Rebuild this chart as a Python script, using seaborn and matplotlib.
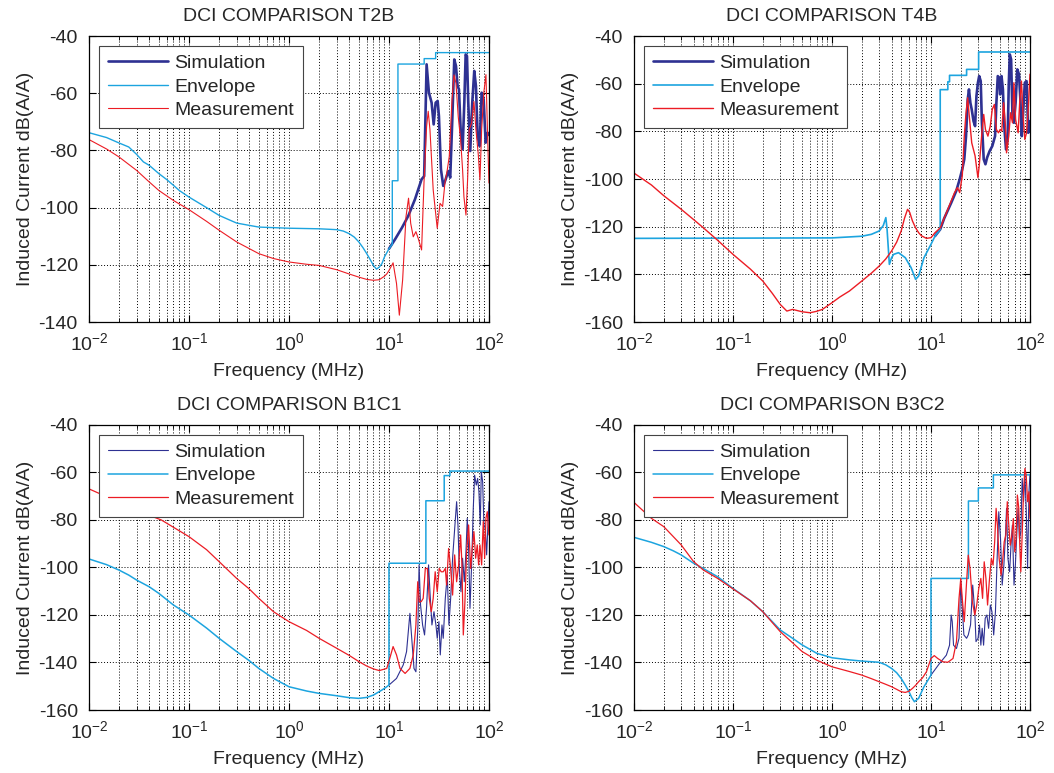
import matplotlib
matplotlib.use("Agg")
import matplotlib.pyplot as plt
import seaborn as sns

# ---- T2B ----
t2b_env_f = [0.01, 0.015, 0.02, 0.025, 0.03, 0.035, 0.04, 0.05, 0.06, 0.07, 0.08, 0.1, 0.15, 0.2, 0.25, 0.3,
             0.4, 0.5, 0.7, 1, 2, 3, 3.5, 4, 4.5, 5, 5.5, 6, 6.5, 7, 7.5, 8, 8.5, 9, 10,
             10.8, 10.8, 12.3, 12.3, 22.5, 22.5, 29.3, 29.3, 100]
t2b_env_db = [-73.8, -75.5, -77.4, -78.8, -81.4, -84, -85.2, -88.1, -90.2, -92.2, -94, -96.3, -100, -102.7,
              -104.2, -105.4, -106.2, -106.8, -107, -107.2, -107.4, -107.7, -108.2, -109.1, -110.3, -112, -114,
              -116.1, -118.2, -120.2, -121.5, -120.8, -119.6, -117.3, -114.4, -112.8, -90.6, -90.6, -49.8, -49.8,
              -47.9, -47.9, -45.8, -45.8]
t2b_sim_f = [10, 11.5, 13.5, 15.6, 18.2, 21.2, 22.5, 23.8, 25.1, 26.7, 28, 29.3, 30.7, 31.6, 33.1, 34.9, 36.9,
             39.2, 41, 43, 45, 46.8, 48.6, 50.1, 52.1, 54.5, 56.7, 58.5, 60.3, 62.1, 65, 68.1, 71.3, 74.1, 77.1,
             80.7, 84.5, 88.5, 92.7, 97, 100]
t2b_sim_db = [-114.4, -111.1, -107, -102.9, -97.1, -90.1, -89, -49.9, -59.8, -63.3, -70.9, -63.3, -62.7, -68,
              -86.6, -92.4, -90.1, -87.2, -89.5, -69.1, -48.2, -50.5, -57.5, -58.6, -72.6, -79.6, -63.3, -46.4,
              -47, -63.3, -80.2, -63.3, -52.2, -57.5, -75, -78.5, -59.8, -62.1, -77.3, -73.8, -74.5]
t2b_meas_f = [0.01, 0.015, 0.02, 0.03, 0.04, 0.05, 0.07, 0.1, 0.15, 0.2, 0.3, 0.5, 0.7, 1, 1.5, 2, 3, 4, 5, 6,
              7, 8, 9, 9.5, 10, 11, 11.9, 12.7, 13.7, 14.8, 15.7, 16.5, 17.5, 18.6, 19.6, 21.2, 22.4, 23.8, 24.7,
              25.7, 27.7, 30.4, 32.4, 34.4, 36.3, 38.3, 40.1, 42.7, 44.7, 46.8, 49.3, 52.1, 54.5, 56.2, 58.9,
              61.2, 63.5, 67.1, 70.8, 74.1, 78.2, 81.3, 84.5, 89.1, 93.3, 97.7, 100]
t2b_meas_db = [-76.2, -79.5, -82.3, -87, -91, -94, -97.5, -100.7, -104.8, -107.9, -112, -116.1, -117.8, -119,
               -119.8, -120.2, -121.7, -123.2, -124.3, -125.1, -125.4, -125.2, -124, -123.2, -122, -119.3,
               -126.5, -137.6, -125.3, -103.2, -96.7, -105.5, -110.2, -108.4, -110.7, -114.8, -91.4, -71.6, -66.3,
               -72.7, -93.8, -107.2, -98.5, -99.6, -91.4, -86.8, -82.1, -62.3, -53.6, -56.5, -68.2, -76.3, -86.8,
               -96.2, -102.6, -90, -72.7, -70.4, -62.9, -72.7, -81.4, -90.3, -72.7, -59.4, -53.5, -79, -91.4]

# ---- T4B ----
t4b_env_f = [0.01, 0.1, 1, 2, 2.5, 3, 3.3, 3.5, 3.6, 3.8, 4, 4.2, 4.7, 5.5, 6.3, 7, 7.5, 8.5, 10, 11, 12.4,
             12.4, 14.8, 14.8, 15.4, 15.4, 22.9, 22.9, 30.3, 30.3, 100]
t4b_env_db = [-124.9, -124.8, -124.7, -124, -123.2, -121.8, -119.5, -116.2, -121, -135.8, -133, -131.6, -130.9,
              -133, -137.2, -142.1, -140.7, -133, -127.4, -123.9, -121.1, -62.5, -62.5, -59.2, -59.2, -56.5,
              -56.5, -54, -54, -46.7, -46.7]
t4b_sim_f = [11, 12.4, 13.6, 16, 18, 19.5, 20.7, 21.7, 22.6, 23.5, 24.2, 25, 25.8, 26.9, 27.9, 28.8, 29.8, 30.7,
             31.8, 32.7, 34.1, 35.5, 36.9, 39.1, 41.6, 44.4, 45.8, 47.3, 48.9, 50, 51.6, 53.3, 55, 57.3, 59.6, 61,
             62.5, 64.5, 66.6, 68.8, 71.6, 74.5, 77.5, 80, 82.6, 85.3, 88.7, 92.3, 96.1, 100]
t4b_sim_db = [-123.9, -121.1, -116.5, -110, -105, -100.1, -95.9, -91.7, -82, -66.6, -62.4, -68, -70.8, -75.7,
              -77.8, -65.2, -59.6, -56.8, -58.9, -76.4, -91.7, -93.8, -91, -88.3, -86.2, -82, -68, -56.8, -57.5,
              -64.5, -56.8, -62.4, -77.8, -87.6, -82, -61, -47.7, -49.8, -73.6, -76.4, -68, -54, -56.1, -66.6,
              -82, -72.2, -59.6, -58.9, -80.6, -75.7]
t4b_meas_f = [0.01, 0.015, 0.02, 0.03, 0.04, 0.05, 0.07, 0.1, 0.15, 0.2, 0.25, 0.3, 0.35, 0.4, 0.5, 0.6, 0.7,
              0.8, 1, 1.2, 1.5, 2, 2.5, 3, 3.5, 4, 4.5, 5, 5.4, 5.8, 6.1, 6.5, 7, 7.5, 8, 9, 10, 11, 12.4, 14.8,
              17.3, 18.5, 19.5, 20.7, 21.7, 22.6, 23.5, 24.2, 25.8, 27.9, 29.8, 30.7, 32.7, 34.1, 35.5, 37.6,
              39.7, 41.6, 43.7, 45.8, 48, 50, 51.9, 54.2, 56.5, 58, 61, 63.7, 66.6, 68.8, 71.6, 76, 78.7, 82,
              85.3, 88.7, 92.3, 96, 100]
t4b_meas_db = [-97.5, -102.5, -107, -112.7, -117, -120.4, -125.7, -131.6, -137.8, -142.8, -148, -152.6, -155.4,
               -154.7, -155.7, -156.1, -155.5, -154.7, -151.9, -149.5, -147, -142.8, -139.5, -136.5, -133.5,
               -130.2, -126.5, -121.8, -116.5, -112.7, -114, -117.6, -120.5, -122.5, -123.8, -124.9, -124.6,
               -122.5, -120.5, -112.7, -105.7, -103.6, -105.7, -98.7, -82, -72.2, -65.9, -72.2, -84.8, -90.3,
               -99.4, -94.5, -80.6, -72.9, -79.2, -82, -77.8, -70.8, -68.7, -79.2, -80.6, -79.2, -79.9, -68,
               -77.8, -89, -82, -72.2, -76.4, -59.6, -75, -80.6, -68, -58.9, -73.6, -83.4, -80.6, -70.8, -56]

# ---- B1C1 ----
b1c1_env_f = [0.01, 0.015, 0.02, 0.025, 0.03, 0.04, 0.05, 0.07, 0.1, 0.15, 0.2, 0.3, 0.4, 0.5, 0.7, 1, 1.5, 2,
              3, 4, 5, 6, 7, 8.5, 9.3, 10, 10, 23.4, 23.4, 35.7, 35.7, 40.7, 40.7, 100]
b1c1_env_db = [-96.4, -98.8, -101.1, -103.2, -105.3, -108.1, -110.9, -115.8, -120, -125.5, -129.8, -135.4,
               -139.2, -142.5, -146.7, -150.2, -152, -153, -154, -154.8, -155.1, -154.7, -153.7, -151.6, -150.5,
               -149.5, -98.2, -98.2, -71.9, -71.9, -61.3, -61.3, -59.4, -59.4]
b1c1_sim_f = [10, 11.9, 13.9, 15, 16.2, 16.9, 17.8, 18.6, 19.5, 20, 20.7, 21.7, 22.7, 23.8, 24.9, 25.7, 26.9,
              28.2, 29.5, 30.4, 31.6, 32.6, 33.9, 34.9, 36.6, 38.3, 39.8, 41.4, 43.3, 45.7, 47.5, 49, 50.5, 52.5,
              54.5, 56.7, 58.9, 60.7, 62.6, 64.6, 67.1, 69.7, 71.9, 74.7, 77.1, 79.4, 81.9, 83.8, 86.5, 89.1,
              91.9, 94.8, 97.7, 100]
b1c1_sim_db = [-149.5, -146.7, -141, -135.4, -119.3, -129.8, -142.5, -143.9, -124.2, -98.9, -115.8, -124.2,
               -128.4, -116.5, -98.9, -110.2, -124.2, -118.6, -124.2, -129.8, -122.8, -136.8, -124.2, -129.8,
               -113, -103.2, -124.2, -113, -96.1, -82.1, -72.3, -82.1, -100.4, -110.2, -96.1, -106, -93.3, -79.3,
               -91.9, -117.2, -98.9, -75.1, -61.1, -65.3, -62.5, -68.1, -82.1, -59.6, -63.9, -82.1, -83.5, -94.7,
               -82.1, -72.3]
b1c1_meas_f = [0.01, 0.02, 0.03, 0.053, 0.1, 0.15, 0.2, 0.3, 0.4, 0.5, 0.7, 1, 1.5, 2, 3, 4, 5, 6, 7, 8, 9.5,
               10.2, 11, 11.9, 12.9, 14.5, 16.2, 17.5, 18.6, 19.4, 20.1, 21, 22, 23.1, 24.2, 25.3, 26.5, 27.7, 29,
               30.4, 31.8, 33.3, 34.9, 36.6, 37.7, 39.5, 41.4, 43.3, 45.4, 47.5, 49.8, 52.1, 53.7, 55.4, 57.5,
               59.8, 62.6, 65.6, 68.1, 70.8, 73.6, 76.4, 78.8, 81.3, 84.5, 87.7, 90.6, 93.3, 96.2, 100]
b1c1_meas_db = [-66.9, -72.5, -76, -80, -87, -92.5, -97.5, -104.6, -109, -113, -118.6, -122.8, -126.5, -129.8,
                -134, -137, -139.6, -141.5, -142.7, -143.4, -142.5, -138.2, -133.3, -136.8, -142.5, -144.6,
                -142.5, -136.8, -124.2, -106, -114.4, -114.4, -113, -100.4, -100.4, -113, -118.6, -113, -101.8,
                -110.2, -100.4, -101.8, -101.8, -100.4, -107.4, -92, -100.4, -111.6, -94.7, -106, -98.9, -86.3,
                -98.9, -128.4, -114.4, -93.3, -82.1, -100.4, -92, -84.9, -96.1, -90.5, -98.9, -90.5, -98.9,
                -80.7, -96.1, -79.3, -76.5, -86.3]

# ---- B3C2 ----
b3c2_env_f = [0.01, 0.015, 0.02, 0.025, 0.03, 0.04, 0.05, 0.07, 0.1, 0.15, 0.2, 0.3, 0.4, 0.5, 0.7, 1, 1.5, 2,
              3, 3.5, 4, 4.5, 5, 5.5, 6, 6.4, 6.8, 7.5, 8.5, 9.3, 10, 10, 23.9, 23.9, 30.1, 30.1, 42.7, 42.7, 100]
b3c2_env_db = [-87.3, -89.4, -91.2, -93, -94.7, -98.2, -100.4, -103.9, -108.8, -114, -118.6, -126.3, -129.8,
               -132.6, -136.1, -138, -138.9, -139.4, -139.9, -141, -142.5, -144.3, -146.7, -149.5, -152.3, -154.8,
               -156.5, -155.1, -150.2, -147.5, -145.3, -104.6, -104.6, -72, -72, -66.5, -66.5, -61, -61]
b3c2_sim_f = [10, 12.2, 14.3, 15.4, 16, 16.4, 16.9, 18.1, 19.2, 20, 20.8, 21.5, 22.9, 23.8, 25.1, 26.4, 27.7,
              28.5, 29.9, 30.9, 31.9, 32.9, 34, 35.3, 36.7, 38.2, 39.8, 41.3, 43, 44.8, 46.6, 48.4, 50.4, 52.4,
              54.5, 56.6, 58, 59.9, 62.3, 64.3, 66.4, 69, 71.2, 73.5, 75.9, 78.3, 80.9, 83.4, 86.1, 88.9, 91.6,
              94.6, 97.7, 100]
b3c2_sim_db = [-145.3, -140.4, -136.9, -132.7, -120, -122.8, -132.7, -134.1, -129.8, -106, -118.6, -128.4,
               -129.8, -128.4, -124.2, -107.4, -118.6, -131.2, -129.8, -124.2, -132.7, -125.6, -132.7, -121.4,
               -120, -125.6, -115.8, -118.6, -128.4, -118.6, -96.2, -76.5, -87.8, -107.4, -99, -86.4, -75.1,
               -96.2, -101.8, -90.6, -82.2, -107.4, -99, -86.4, -75.1, -87.8, -85, -62.5, -72.3, -61.1, -75.1,
               -100.4, -68.1, -61.1]
b3c2_meas_f = [0.01, 0.015, 0.02, 0.03, 0.04, 0.05, 0.07, 0.1, 0.15, 0.2, 0.3, 0.4, 0.5, 0.7, 1, 1.5, 2, 2.5, 3,
               3.5, 4, 4.5, 5, 5.5, 6, 6.5, 7, 7.5, 8.2, 9, 10, 10.8, 11.7, 13.2, 14.8, 16.7, 18.1, 19.2, 20, 20.7,
               21.7, 22.9, 23.8, 24.8, 26.2, 27.7, 29, 30.4, 31.9, 33.2, 34.5, 35.9, 37.3, 38.8, 40.7, 42.4, 44,
               45.5, 46.9, 48.8, 51.1, 53.2, 54.9, 57.1, 59, 60.8, 63.2, 65.8, 67.9, 70.2, 72.4, 74.6, 77.1, 78.9,
               80.8, 83.4, 86.1, 88.9, 91.6, 94.6, 97.7, 100]
b3c2_meas_db = [-72.6, -79.3, -82.8, -90.5, -97.5, -101, -104.6, -109, -114, -118.6, -127, -131.7, -135.4, -139,
                -141.8, -143.8, -145.3, -146.8, -148.1, -149.2, -150.2, -151.3, -152.3, -152.6, -152.1, -150.9,
                -149.6, -148.1, -146.5, -143.9, -138.3, -137.1, -138.3, -139.7, -139.9, -138.3, -131.2, -113,
                -104.6, -113, -122.8, -106, -94.8, -100.4, -114.4, -120, -115.8, -108.8, -104.6, -113, -97.6,
                -104.6, -115.8, -106, -96.2, -99, -89.2, -75.1, -82.2, -96.2, -103.2, -96.2, -89.2, -86.4, -72.3,
                -80.8, -90.6, -86.4, -79.4, -93.4, -87.8, -69.5, -75.1, -90.6, -101.8, -86.4, -68.1, -58.3, -61.1,
                -72.3, -68.1, -79.4]

SIM_C = '#2E3192'
ENV_C = '#1CA4DF'
MEAS_C = '#EC1C24'

sns.set_theme(style="ticks")
plt.rcParams['font.family'] = ['Liberation Sans', 'DejaVu Sans']
plt.rcParams['mathtext.fontset'] = 'custom'
plt.rcParams['mathtext.rm'] = 'Liberation Sans'
plt.rcParams['mathtext.it'] = 'Liberation Sans:italic'
plt.rcParams['axes.unicode_minus'] = False

fig = plt.figure(figsize=(10.54, 7.73), dpi=100)
fig.patch.set_facecolor('white')

panels = [
    ([0.0844, 0.5834, 0.3795, 0.370], 'DCI COMPARISON T2B', (-140, -40),
     (t2b_sim_f, t2b_sim_db, 1.9), (t2b_env_f, t2b_env_db, 1.0), (t2b_meas_f, t2b_meas_db, 0.8)),
    ([0.6015, 0.5834, 0.3757, 0.370], 'DCI COMPARISON T4B', (-160, -40),
     (t4b_sim_f, t4b_sim_db, 1.9), (t4b_env_f, t4b_env_db, 1.2), (t4b_meas_f, t4b_meas_db, 1.0)),
    ([0.0844, 0.0815, 0.3795, 0.3687], 'DCI COMPARISON B1C1', (-160, -40),
     (b1c1_sim_f, b1c1_sim_db, 0.8), (b1c1_env_f, b1c1_env_db, 1.1), (b1c1_meas_f, b1c1_meas_db, 0.9)),
    ([0.6015, 0.0815, 0.3757, 0.3687], 'DCI COMPARISON B3C2', (-160, -40),
     (b3c2_sim_f, b3c2_sim_db, 0.8), (b3c2_env_f, b3c2_env_db, 1.1), (b3c2_meas_f, b3c2_meas_db, 0.9)),
]

for rect, title, ylim, sim, env, meas in panels:
    ax = fig.add_axes(rect)
    ax.set_xscale('log')
    sns.lineplot(x=sim[0], y=sim[1], ax=ax, color=SIM_C, linewidth=sim[2],
                 estimator=None, sort=False, label='Simulation')
    sns.lineplot(x=env[0], y=env[1], ax=ax, color=ENV_C, linewidth=env[2],
                 estimator=None, sort=False, label='Envelope')
    sns.lineplot(x=meas[0], y=meas[1], ax=ax, color=MEAS_C, linewidth=meas[2],
                 estimator=None, sort=False, label='Measurement')
    ax.set_xlim(0.01, 100)
    ax.set_ylim(*ylim)
    ax.set_yticks(range(ylim[0], -39, 20))
    ax.set_title(title, fontsize=14, pad=11)
    ax.set_xlabel('Frequency (MHz)', fontsize=14, labelpad=7)
    ax.set_ylabel('Induced Current dB(A/A)', fontsize=14, labelpad=3)
    ax.grid(True, which='major', axis='both', color='black', linestyle=(0, (1, 2)), linewidth=0.7)
    ax.grid(True, which='minor', axis='x', color='black', linestyle=(0, (1, 2)), linewidth=0.7)
    ax.tick_params(which='both', direction='in', top=True, right=True, labelsize=14, color='black')
    ax.tick_params(which='major', length=5, width=0.8)
    ax.tick_params(which='minor', length=3, width=0.6)
    ax.tick_params(axis='x', which='major', pad=7)
    ax.tick_params(axis='y', which='major', pad=8)
    for sp in ax.spines.values():
        sp.set_color('black')
        sp.set_linewidth(0.9)
    leg = ax.legend(loc='upper left', bbox_to_anchor=(0.025, 0.966), borderaxespad=0,
                    fontsize=14, handlelength=3.08, handletextpad=0.33, labelspacing=0.3,
                    borderpad=0.45, fancybox=False, framealpha=1, edgecolor='#444444')
    leg.get_frame().set_linewidth(0.8)

fig.savefig('out.png', dpi=100, facecolor='white')
